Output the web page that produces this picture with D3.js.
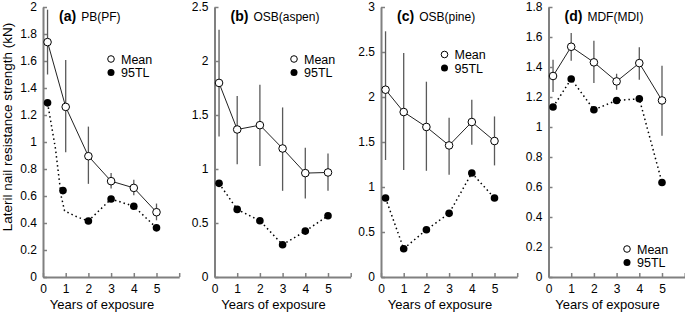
<!DOCTYPE html>
<html>
<head>
<meta charset="utf-8">
<script src="https://cdn.jsdelivr.net/npm/d3@7"></script>
<style>
  body { margin: 0; background: #fff; }
  svg { font-family: "Liberation Sans", Arial, sans-serif; }
</style>
</head>
<body>
<svg width="685" height="314"></svg>
<script>
const svg = d3.select("svg");

// exposure years (first sample plotted slightly right of 0)
const years = [0.2, 1, 2, 3, 4, 5];

// (a) PB(PF)
const meanA = [1.74, 1.26, 0.895, 0.71, 0.66, 0.48];
const lowA  = [1.50, 0.925, 0.69, 0.655, 0.605, 0.42];
const highA = [1.98, 1.607, 1.114, 0.77, 0.72, 0.544];
const tlXA  = [0.2, 0.88, 2, 3, 4, 5];
const tlA   = [1.29, 0.64, 0.415, 0.578, 0.524, 0.364];
const tlCurveXA = [0.2, 0.55, 0.8, 0.95, 1.5, 2, 3, 4, 5];
const tlCurveA  = [1.29, 0.95, 0.6, 0.49, 0.445, 0.415, 0.578, 0.524, 0.364];

// (b) OSB(aspen)
const meanB = [1.797, 1.366, 1.406, 1.19, 0.962, 0.968];
const lowB  = [1.30, 1.045, 1.027, 0.798, 0.728, 0.798];
const highB = [2.29, 1.677, 1.78, 1.57, 1.196, 1.144];
const tlB   = [0.867, 0.626, 0.521, 0.299, 0.425, 0.567];

// (c) OSB(pine)
const meanC = [2.081, 1.833, 1.667, 1.462, 1.722, 1.511];
const lowC  = [1.30, 1.19, 1.18, 1.137, 1.47, 1.24];
const highC = [2.73, 2.49, 2.17, 1.77, 1.97, 1.784];
const tlC   = [0.877, 0.314, 0.525, 0.707, 1.155, 0.877];

// (d) MDF(MDI)
const meanD = [1.34, 1.535, 1.431, 1.304, 1.426, 1.177];
const lowD  = [1.233, 1.442, 1.293, 1.248, 1.315, 0.941];
const highD = [1.449, 1.627, 1.575, 1.355, 1.531, 1.409];
const tlD   = [1.133, 1.32, 1.115, 1.177, 1.188, 0.63];

const yTicksA = [0, 0.2, 0.4, 0.6, 0.8, 1, 1.2, 1.4, 1.6, 1.8, 2];
const yTicksB = [0, 0.5, 1, 1.5, 2, 2.5];
const yTicksC = [0, 0.5, 1, 1.5, 2, 2.5, 3];
const yTicksD = [0, 0.2, 0.4, 0.6, 0.8, 1, 1.2, 1.4, 1.6, 1.8];
const xTicks = [0, 1, 2, 3, 4, 5, 6];

const panels = [
  { left: 43,    letter: '(a)', name: 'PB(PF)',     yMax: 2,   yTicks: yTicksA, mean: meanA, low: lowA, high: highA, tlX: tlXA, tl: tlA, curveX: tlCurveXA, curve: tlCurveA, legend: [111, 59] },
  { left: 214.5, letter: '(b)', name: 'OSB(aspen)', yMax: 2.5, yTicks: yTicksB, mean: meanB, low: lowB, high: highB, tlX: years, tl: tlB, legend: [294, 59] },
  { left: 381,   letter: '(c)', name: 'OSB(pine)',  yMax: 3,   yTicks: yTicksC, mean: meanC, low: lowC, high: highC, tlX: years, tl: tlC, legend: [444.5, 54.5] },
  { left: 548.5, letter: '(d)', name: 'MDF(MDI)',   yMax: 1.8, yTicks: yTicksD, mean: meanD, low: lowD, high: highD, tlX: years, tl: tlD, legend: [627, 249] }
];

const plotTop = 7, plotBottom = 277, unit = 22.7;
const axisColor = '#808080';

panels.forEach(p => {
  const x = d3.scaleLinear().domain([0, 6]).range([p.left, p.left + 6 * unit]);
  const y = d3.scaleLinear().domain([0, p.yMax]).range([plotBottom, plotTop]);

  const g = svg.append('g');

  // axes, ticks pointing inward
  const xAxisG = g.append('g')
    .attr('transform', `translate(0, ${plotBottom})`)
    .call(d3.axisBottom(x).tickValues(xTicks).tickSizeInner(-4).tickSizeOuter(0)
      .tickFormat(d => d === 6 ? '' : d));
  const yAxisG = g.append('g')
    .attr('transform', `translate(${p.left}, 0)`)
    .call(d3.axisLeft(y).tickValues(p.yTicks).tickSizeInner(-4).tickSizeOuter(0)
      .tickFormat(d => d3.format('~g')(d)));

  [xAxisG, yAxisG].forEach(a => {
    a.select('.domain').attr('stroke', axisColor).attr('stroke-width', 2);
    a.selectAll('.tick line').attr('stroke', axisColor).attr('stroke-width', 1.5);
    a.selectAll('.tick text').attr('fill', '#000').attr('font-size', 12)
      .attr('font-family', '"Liberation Sans", Arial, sans-serif');
  });
  xAxisG.selectAll('.tick text').attr('y', 7);
  yAxisG.selectAll('.tick text').attr('x', -6);

  // error bars
  g.selectAll('.err')
    .data(years)
    .enter().append('line')
    .attr('x1', d => x(d)).attr('x2', d => x(d))
    .attr('y1', (d, i) => y(p.low[i]))
    .attr('y2', (d, i) => y(p.high[i]))
    .attr('stroke', '#5a5a5a')
    .attr('stroke-width', 1.3);

  // 95TL dotted line
  const line = d3.line().x(d => x(d[0])).y(d => y(d[1]));
  const tlPts = p.curve ? p.curveX.map((v, i) => [v, p.curve[i]]) : p.tlX.map((v, i) => [v, p.tl[i]]);
  g.append('path')
    .attr('d', line(tlPts))
    .attr('fill', 'none')
    .attr('stroke', '#000')
    .attr('stroke-width', 1.5)
    .attr('stroke-dasharray', '1.5,3');

  // mean line
  g.append('path')
    .attr('d', line(years.map((v, i) => [v, p.mean[i]])))
    .attr('fill', 'none')
    .attr('stroke', '#222')
    .attr('stroke-width', 1);

  g.selectAll('.tl')
    .data(p.tl)
    .enter().append('circle')
    .attr('cx', (d, i) => x(p.tlX[i]))
    .attr('cy', d => y(d))
    .attr('r', 3.8)
    .attr('fill', '#000');

  g.selectAll('.mean')
    .data(p.mean)
    .enter().append('circle')
    .attr('cx', (d, i) => x(years[i]))
    .attr('cy', d => y(d))
    .attr('r', 3.8)
    .attr('fill', '#fff')
    .attr('stroke', '#000')
    .attr('stroke-width', 1);

  // panel title
  const title = g.append('text')
    .attr('x', p.left + 16)
    .attr('y', 21)
    .attr('fill', '#000');
  title.append('tspan').attr('font-weight', 'bold').attr('font-size', 14).text(p.letter);
  title.append('tspan').attr('font-size', 12).attr('dx', 5).text(p.name);

  // legend
  const [lx, ly] = p.legend;
  g.append('circle').attr('cx', lx).attr('cy', ly).attr('r', 3.3)
    .attr('fill', '#fff').attr('stroke', '#000').attr('stroke-width', 1);
  g.append('circle').attr('cx', lx).attr('cy', ly + 13.5).attr('r', 3.5)
    .attr('fill', '#000');
  g.append('text').attr('x', lx + 10).attr('y', ly + 4.5)
    .attr('font-size', 12.5).attr('fill', '#000').text('Mean');
  g.append('text').attr('x', lx + 10).attr('y', ly + 18)
    .attr('font-size', 12.5).attr('fill', '#000').text('95TL');

  // x label
  g.append('text')
    .attr('x', x(2.6))
    .attr('y', 309)
    .attr('text-anchor', 'middle')
    .attr('font-size', 13)
    .attr('fill', '#000')
    .text('Years of exposure');
});

svg.append('text')
  .attr('transform', 'translate(12, 127) rotate(-90)')
  .attr('text-anchor', 'middle')
  .attr('font-size', 13.5)
  .attr('fill', '#000')
  .text('Lateril nail resistance strength (kN)');
</script>
</body>
</html>
